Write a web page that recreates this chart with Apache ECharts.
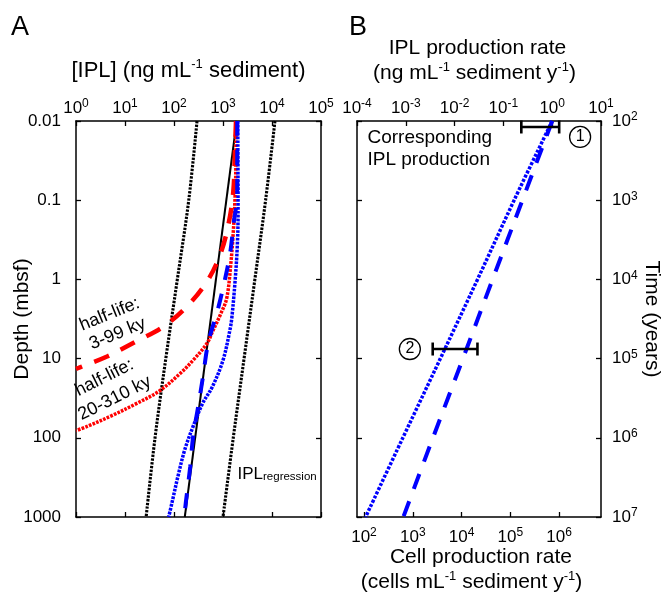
<!DOCTYPE html>
<html><head><meta charset="utf-8">
<script src="https://cdn.jsdelivr.net/npm/echarts@6/dist/echarts.min.js"></script>
<style>html,body{margin:0;padding:0;background:#fff}#c{width:667px;height:594px}</style>
</head><body><div id="c"></div>
<script>
// ---------- data ----------
const depthTickLabels = ['0.01', '0.1', '1', '10', '100', '1000'];
const cellTickExponents = [2, 3, 4, 5, 6];
const CELLS_PER_NG = 7.2e5; // cells per ng IPL (bottom vs top axis of panel B)

// Panel A: [IPL (ng/mL), depth (mbsf)]
const bandLow = [[295, 0.01], [200, 0.1], [117, 1], [68, 10], [41, 100], [27, 1000]];
const bandHigh = [[11500, 0.01], [7400, 0.1], [4470, 1], [2690, 10], [1620, 100], [1000, 1000]];
const regression = [[1905, 0.01], [166, 1000]];
const redDashed = [[1841, 0.01], [1758, 0.0221], [1622, 0.0776], [1288, 0.204], [871, 0.49], [468, 1.07],
  [182, 2.21], [59.7, 3.98], [16.0, 6.17], [4.30, 9.42], [1.20, 12.9], [1.0, 13.5]];
const redDotted = [[1841, 0.01], [1830, 0.036], [1758, 0.0955], [1622, 0.251], [1435, 0.661], [1189, 1.74],
  [891, 2.75], [631, 4.37], [468, 6.46], [245, 10.5], [132, 15.5], [50, 25.7], [16.2, 37.6], [5.37, 52.5],
  [1.78, 70.8], [1.0, 81.3]];
const blueDashedA = [[1950, 0.01], [1950, 0.085], [1660, 0.19], [1380, 0.49], [1000, 1.29], [760, 2.57],
  [500, 6.3], [390, 17], [310, 41], [245, 98], [214, 234], [174, 660], [163, 1000]];
const blueDottedA = [[2000, 0.01], [2030, 0.15], [1950, 0.4], [1760, 1.07], [1510, 3.1], [1380, 4.4],
  [1000, 10.5], [600, 23], [390, 36], [245, 72], [166, 141], [120, 309], [91, 660], [78, 1000]];

// Panel B: [IPL production rate (ng/mL/y), time (years)]
const blueDottedB = [[1.0, 1e2], [0.166, 1e3], [0.0295, 1e4], [5.1e-3, 1e5], [8.7e-4, 1e6], [1.5e-4, 1e7]];
const blueDashedB = [[1.0, 1e2], [0.245, 1e3], [0.060, 1e4], [0.0148, 1e5], [3.6e-3, 1e6], [8.9e-4, 1e7]];
const errorBars = [ // [low, high, time]
  [0.233, 1.39, 119],
  [3.56e-3, 0.0294, 7.57e4]
];
const errorBarLabels = ['1', '2'];
const errorBarLabelPos = [[3.73, 159], [1.21e-3, 7.57e4]];

// ---------- styles ----------
const F = "'Liberation Sans', Arial, Helvetica, sans-serif";
const tickRich = {
  b: {fontFamily: F, fontSize: 17, color: '#000', lineHeight: 20, verticalAlign: 'middle'},
  s: {fontFamily: F, fontSize: 12, color: '#000', lineHeight: 11, verticalAlign: 'top'}
};
const titleRich = {
  t: {fontFamily: F, fontSize: 21, color: '#000', lineHeight: 25, verticalAlign: 'middle'},
  t2: {fontFamily: F, fontSize: 22, color: '#000', lineHeight: 25, verticalAlign: 'middle'},
  ts: {fontFamily: F, fontSize: 13, color: '#000', lineHeight: 16, verticalAlign: 'top'},
  sp6: {width: 6, fontSize: 21, lineHeight: 25},
  sp19: {width: 19, fontSize: 21, lineHeight: 25}
};
const expFmt = v => '{b|10}{s|' + Math.round(Math.log10(v)) + '}';

function axis(o) {
  const base = {
    type: 'log', logBase: 10, nameMoveOverlap: false,
    axisLine: {show: true, onZero: false, lineStyle: {color: '#000', width: 1.5}},
    axisTick: {show: true, inside: true, length: 5, lineStyle: {color: '#000', width: 1.3}},
    axisLabel: {show: false},
    splitLine: {show: false}, minorTick: {show: false}, minorSplitLine: {show: false}
  };
  return Object.assign(base, o);
}

function line(data, xi, yi, color, width, dash, z) {
  return {
    type: 'line', xAxisIndex: xi, yAxisIndex: yi, data: data,
    symbol: 'none', showSymbol: false, smooth: 0.35, silent: true, z: z,
    lineStyle: {color: color, width: width, type: dash, cap: 'butt', opacity: 1}
  };
}
const DOT_K = [2.4, 1.3], DOT_A = [2.7, 1.2], DOT_B = [3.0, 1.6], DASH = [16, 13];

function textPoint(xi, yi, pt, text, opts) {
  return {
    type: 'scatter', xAxisIndex: xi, yAxisIndex: yi, data: [pt], symbolSize: 1, silent: true, z: 20,
    itemStyle: {color: 'rgba(0,0,0,0)', opacity: 1},
    label: Object.assign({show: true, formatter: text, color: '#000', fontFamily: F, opacity: 1}, opts)
  };
}

const series = [
  line(bandLow, 0, 0, '#000', 3.1, DOT_K, 2),
  line(bandHigh, 0, 0, '#000', 3.1, DOT_K, 2),
  Object.assign(line(regression, 0, 0, '#000', 2, 'solid', 3), {smooth: false}),
  line(redDashed, 0, 0, '#ff0000', 4.5, DASH, 4),
  line(redDotted, 0, 0, '#ff0000', 3.5, DOT_A, 4),
  line(blueDashedA, 0, 0, '#0000ff', 4, [15, 14], 5),
  line(blueDottedA, 0, 0, '#0000ff', 3.5, DOT_A, 5),
  textPoint(0, 0, [5.85, 3.66], 'half-life:\n3-99 ky', {position: 'inside', rotate: 22, fontSize: 18, lineHeight: 21, align: 'center', verticalAlign: 'middle'}),
  textPoint(0, 0, [4.83, 23.5], 'half-life:\n20-310 ky', {position: 'inside', rotate: 26.5, fontSize: 18, lineHeight: 23, align: 'center', verticalAlign: 'middle'}),
  textPoint(0, 0, [1930, 287], '{a|IPL}{r|regression}', {position: 'right', distance: 0,
    rich: {a: {fontFamily: F, fontSize: 17, color: '#000', lineHeight: 17, verticalAlign: 'bottom'},
           r: {fontFamily: F, fontSize: 11.5, color: '#000', lineHeight: 12, verticalAlign: 'bottom'}}}),

  line(blueDottedB, 2, 3, '#0000ff', 3.5, DOT_B, 5),
  line(blueDashedB, 2, 3, '#0000ff', 4, DASH, 5),
  textPoint(2, 3, [1.6e-4, 226], 'Corresponding\nIPL production', {position: 'right', distance: 0, fontSize: 19, lineHeight: 22, align: 'left', verticalAlign: 'middle'})
];

errorBars.forEach((eb, i) => {
  series.push({
    type: 'line', xAxisIndex: 2, yAxisIndex: 3, data: [[eb[0], eb[2]], [eb[1], eb[2]]],
    symbol: 'none', silent: true, z: 8, lineStyle: {color: '#000', width: 2.6}
  });
  series.push({
    type: 'scatter', xAxisIndex: 2, yAxisIndex: 3, data: [[eb[0], eb[2]], [eb[1], eb[2]]],
    symbol: 'rect', symbolSize: [2.6, 13], silent: true, z: 8, itemStyle: {color: '#000', opacity: 1}
  });
  series.push({
    type: 'scatter', xAxisIndex: 2, yAxisIndex: 3, data: [errorBarLabelPos[i]],
    symbol: 'circle', symbolSize: 21, silent: true, z: 9,
    itemStyle: {color: '#fff', borderColor: '#000', borderWidth: 1.3, opacity: 1},
    label: {show: true, position: 'inside', formatter: errorBarLabels[i], fontFamily: F, fontSize: 16, color: '#000', opacity: 1}
  });
});

const option = {
  animation: false,
  backgroundColor: '#fff',
  grid: [
    {left: 76, top: 121, width: 245, height: 396, containLabel: false, outerBoundsMode: 'none'},
    {left: 357, top: 121, width: 244, height: 396, containLabel: false, outerBoundsMode: 'none'}
  ],
  xAxis: [
    axis({gridIndex: 0, position: 'top', min: 1, max: 1e5,
      axisLabel: {show: true, margin: 3, formatter: expFmt, rich: tickRich},
      name: '{t2|[IPL] (ng mL}{ts|-1}{t2| sediment)}', nameLocation: 'middle', nameGap: 38,
      nameTextStyle: {rich: titleRich, padding: [0, 20, 0, 0]}}),
    axis({gridIndex: 0, position: 'bottom', min: 1, max: 1e5}),
    axis({gridIndex: 1, position: 'top', min: 1e-4, max: 10,
      axisLabel: {show: true, margin: 3, formatter: expFmt, rich: tickRich},
      name: '{t|IPL production rate}\n{t|(ng mL}{ts|-1}{t| sediment y}{ts|-1}{t|)}{sp6| }', nameLocation: 'middle', nameGap: 35,
      nameTextStyle: {rich: titleRich, padding: [0, 3, 0, 0]}}),
    axis({gridIndex: 1, position: 'bottom', type: 'value',
      min: Math.log10(1e-4 * CELLS_PER_NG), max: Math.log10(10 * CELLS_PER_NG),
      axisTick: {show: true, inside: true, length: 5, customValues: cellTickExponents, lineStyle: {color: '#000', width: 1.3}},
      axisLabel: {show: true, margin: 10, customValues: cellTickExponents, formatter: v => '{b|10}{s|' + Math.round(v) + '}', rich: tickRich},
      name: '{t|Cell production rate}\n{t|(cells mL}{ts|-1}{t| sediment y}{ts|-1}{t|)}{sp19| }', nameLocation: 'middle', nameGap: 28,
      nameTextStyle: {rich: titleRich, padding: [0, 0, 0, 4]}})
  ],
  yAxis: [
    axis({gridIndex: 0, position: 'left', inverse: true, min: 0.01, max: 1000,
      axisLabel: {show: true, margin: 15, fontFamily: F, fontSize: 17, color: '#000',
        formatter: v => depthTickLabels[Math.round(Math.log10(v)) + 2]},
      name: 'Depth (mbsf)', nameLocation: 'middle', nameGap: 43,
      nameTextStyle: {fontFamily: F, fontSize: 21, color: '#000'}}),
    axis({gridIndex: 0, position: 'right', inverse: true, min: 0.01, max: 1000}),
    axis({gridIndex: 1, position: 'left', inverse: true, min: 1e2, max: 1e7}),
    axis({gridIndex: 1, position: 'right', inverse: true, min: 1e2, max: 1e7,
      axisLabel: {show: true, margin: 11, formatter: expFmt, rich: tickRich},
      name: 'Time (years)', nameLocation: 'middle', nameGap: 40, nameRotate: -90,
      nameTextStyle: {fontFamily: F, fontSize: 21, color: '#000'}})
  ],
  graphic: [
    {type: 'text', left: 11, top: 14, style: {text: 'A', fontFamily: F, fontSize: 27, fill: '#000'}},
    {type: 'text', left: 349, top: 14, style: {text: 'B', fontFamily: F, fontSize: 27, fill: '#000'}}
  ],
  series: series
};

const chart = echarts.init(document.getElementById('c'), null, {renderer: 'canvas'});
chart.setOption(option);
</script>
</body></html>
